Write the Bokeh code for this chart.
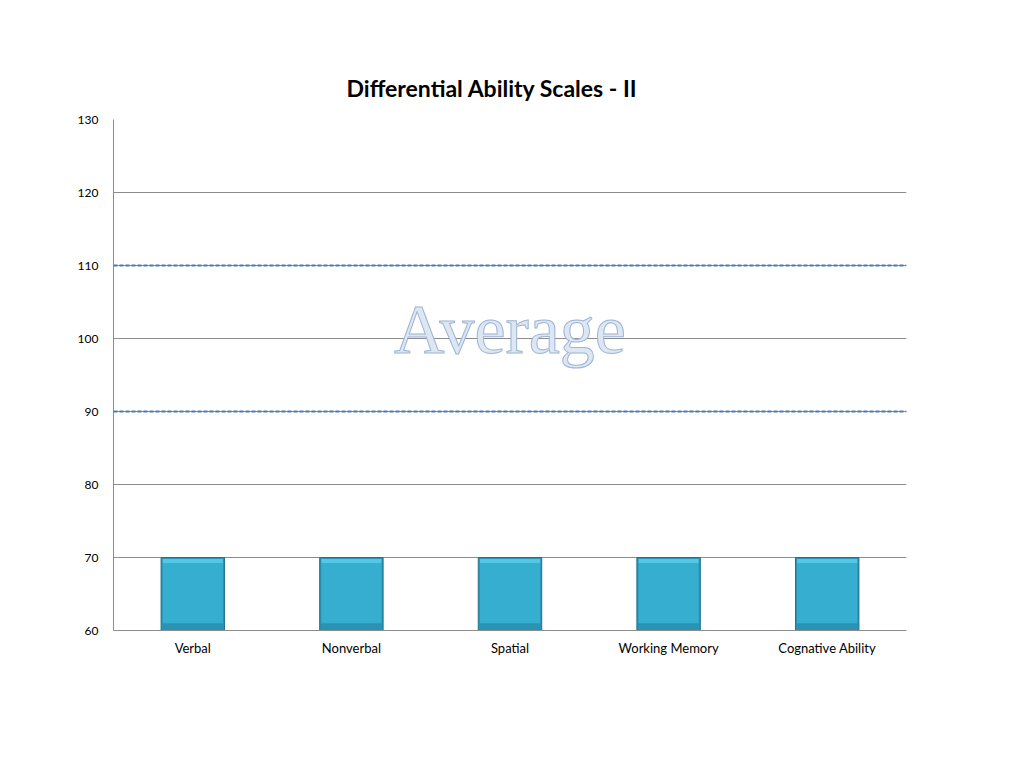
from bokeh.plotting import figure
from bokeh.models import Range1d, FixedTicker, Span, ColumnDataSource, Title
from bokeh.core.properties import value
from bokeh.embed import file_html
from bokeh.resources import INLINE

categories = ["Verbal", "Nonverbal", "Spatial", "Working Memory", "Cognative Ability"]
scores = [70, 70, 70, 70, 70]
y_ticks = [60, 70, 80, 90, 100, 110, 120, 130]
average_band = [90, 110]
band_label = "Average"
title_text = "Differential Ability Scales - II"

y_min, y_max = y_ticks[0], y_ticks[-1]
xs = [i + 0.5 for i in range(len(categories))]

p = figure(width=1000, height=750, output_backend="svg", toolbar_location=None,
           x_range=Range1d(0, len(categories)), y_range=Range1d(y_min, y_max),
           min_border_left=113, min_border_right=94, min_border_top=119, min_border_bottom=120)
p.outline_line_color = None
p.background_fill_color = "white"

t = Title(text=title_text, align="left", text_font="Lato", text_font_size="23px",
          text_font_style="bold", text_color="black", standoff=35, offset=233)
p.add_layout(t, "above")

# grid
p.xgrid.visible = False
p.ygrid.ticker = FixedTicker(ticks=y_ticks)
p.ygrid.grid_line_color = "#8c8c8c"
p.ygrid.grid_line_width = 1

# axes
p.yaxis.ticker = FixedTicker(ticks=y_ticks)
p.yaxis.axis_line_color = "#8c8c8c"
p.yaxis.major_tick_line_color = None
p.yaxis.minor_tick_line_color = None
p.yaxis.major_label_text_font = "Lato"
p.yaxis.major_label_text_font_size = "12px"
p.yaxis.major_label_text_color = "black"
p.yaxis.major_label_standoff = 9

p.xaxis.ticker = FixedTicker(ticks=xs)
p.xaxis.major_label_overrides = {x: c for x, c in zip(xs, categories)}
p.xaxis.axis_line_color = "#8c8c8c"
p.xaxis.major_tick_line_color = None
p.xaxis.minor_tick_line_color = None
p.xaxis.major_label_text_font = "Lato"
p.xaxis.major_label_text_font_size = "13px"
p.xaxis.major_label_text_color = "black"
p.xaxis.major_label_standoff = 3

# average text
p.text(x=[len(categories) / 2], y=[(average_band[0] + average_band[1]) / 2 + 1.2], text=[band_label],
       text_font=value("Liberation Serif"), text_font_size="70px",
       text_align="center", text_baseline="alphabetic",
       text_color="#dce7f3", text_outline_color="#9db4d4")

# bars (with soft gradient layering)
src = ColumnDataSource(dict(x=xs, top=scores, bottom=[y_min] * len(scores)))
p.vbar(x="x", top="top", bottom="bottom", width=0.4, source=src,
       fill_color="#2a93b3", line_color="#22738b", line_width=1)
upper = [y_min + (s - y_min) * 0.92 for s in scores]
p.vbar(x=xs, top=upper, bottom=[y_min + (s - y_min) * 0.10 for s in scores], width=0.38,
       fill_color="#35aed0", line_color=None)
p.vbar(x=xs, top=[s - (s - y_min) * 0.02 for s in scores], bottom=upper, width=0.38,
       fill_color="#55c7e6", line_color=None)

# average band lines
for v in average_band:
    p.add_layout(Span(location=v, dimension="width", line_color="#4a7ab5",
                      line_width=2, line_dash="4 2"))

open("out.html", "w").write(file_html(p, INLINE))
